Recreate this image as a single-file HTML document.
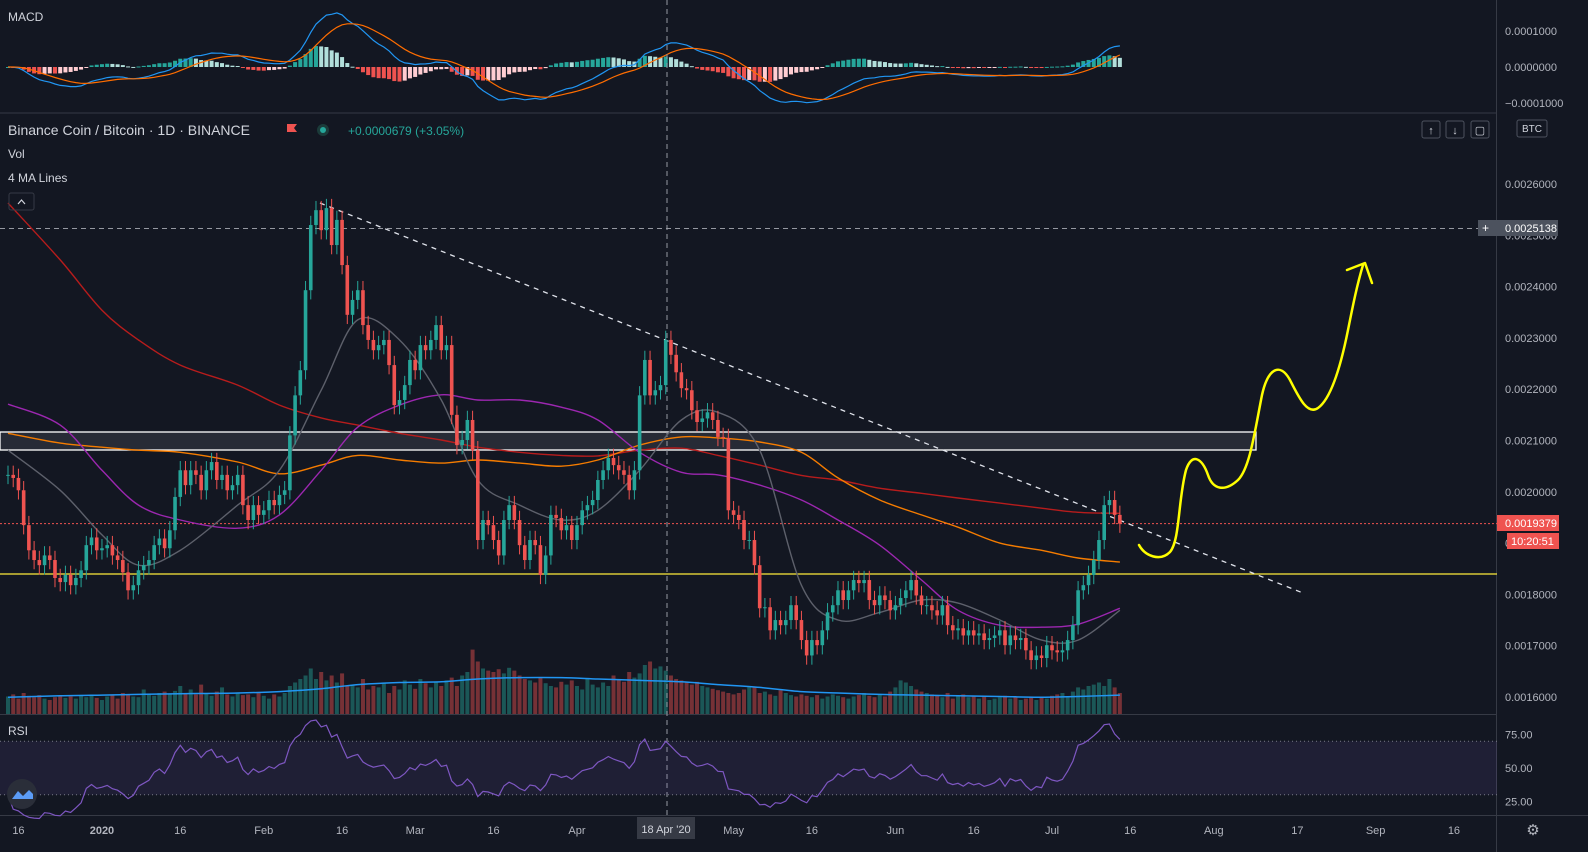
<!DOCTYPE html>
<html><head><meta charset="utf-8">
<style>
html,body{margin:0;padding:0;background:#131722;width:1588px;height:852px;overflow:hidden;font-family:"Liberation Sans",sans-serif;}
svg text{font-family:"Liberation Sans",sans-serif;}
</style></head>
<body>
<svg id="chart" width="1588" height="852" xmlns="http://www.w3.org/2000/svg">
<rect width="1588" height="852" fill="#131722"/>
<g id="grid"></g>
<g id="macd"></g>
<g id="vol"></g>
<g id="overlays"></g>
<g id="candles"></g>
<g id="rsi"></g>
<g id="axis"></g>
</svg>
<script>
const closes=[2033,2027,2003,1935,1886,1867,1857,1876,1867,1832,1824,1838,1818,1832,1847,1896,1911,1886,1890,1896,1876,1867,1843,1808,1818,1847,1857,1867,1896,1909,1890,1925,1990,2042,2013,2042,2033,2003,2042,2058,2023,2033,2003,2013,2033,1974,1945,1974,1955,1964,1984,1974,1994,2003,2110,2188,2237,2393,2520,2549,2510,
2553,2481,2530,2442,2345,2374,2393,2325,2296,2276,2286,2296,2247,2169,2179,2208,2257,2237,2286,2276,2296,2325,2276,2286,2150,2091,2101,2140,2081,
1906,1945,1935,1906,1876,1945,1974,1945,1896,1867,1906,1896,1838,1876,1955,1949,1925,1935,1906,1935,
1964,1974,1984,2023,2042,2066,2052,2042,2033,2003,2042,2188,2257,2188,2198,2208,2296,2267,2233,2202,
2198,2159,2136,2143,2155,2140,2107,2105,1964,1955,1945,1906,1906,1857,1773,1775,1730,1750,1740,1750,
1779,1750,1711,1681,1711,1701,1730,1765,1779,1808,1789,1808,1828,1822,1828,1789,1779,1798,1789,1769,
1779,1793,1808,1828,1798,1779,1779,1769,1759,1779,1740,1730,1734,1720,1730,1720,1724,1711,
1715,1720,1730,1701,1720,1711,1715,1691,1672,1681,1676,1701,1691,1687,1691,1711,1740,1808,1818,1838,1867,1906,1974,1984,1955,1938];
const volumes=[25,28,22,30,26,24,27,22,20,24,26,23,25,22,27,24,26,23,20,25,27,22,30,28,25,24,35,28,26,30,32,
28,33,40,30,35,28,42,30,26,32,38,28,25,30,27,28,24,30,26,22,28,25,30,
40,45,50,55,65,50,60,48,55,45,58,40,42,38,50,35,40,38,45,30,40,35,48,42,36,50,44,38,45,40,48,52,40,55,60,
92,75,65,62,60,64,58,66,62,55,50,48,45,52,44,40,38,46,42,48,40,35,50,42,38,45,40,55,50,46,60,52,
58,70,75,65,68,62,55,50,48,45,42,46,40,38,36,34,32,30,28,30,
35,40,38,30,32,28,26,34,30,27,25,28,26,24,27,22,25,28,26,24,22,25,27,30,26,24,28,25,32,38,48,45,40,35,32,30,28,26,24,30,22,25,28,24,26,22,25,20,22,24,26,22,24,20,22,25,20,24,22,26,28,30,25,32,38,35,40,42,45,40,50,38,30];
const maDays=[0,10,18,25,33,44,52,60,67,75,83,90,98,106,113,121,129,136,144,152,159,167,175,182,190,198,205,213];
const ma200=[2563,2452,2354,2296,2247,2208,2169,2144,2130,2114,2101,2087,2077,2071,2070,2081,2085,2071,2052,2032,2023,2007,1997,1988,1978,1968,1960,1958];
const ma100=[2114,2095,2087,2081,2077,2058,2035,2052,2071,2062,2056,2062,2056,2050,2062,2091,2107,2105,2097,2077,2027,1984,1955,1931,1900,1886,1871,1863];
const ma50=[2171,2130,2042,1974,1945,1929,1955,2042,2126,2169,2189,2179,2179,2165,2140,2077,2038,2033,2013,1984,1945,1896,1828,1769,1740,1736,1742,1773];
const ma20=[2081,2003,1916,1857,1886,1974,2042,2198,2335,2296,2179,2023,1974,1945,1964,2042,2140,2155,2081,1818,1750,1765,1789,1783,1750,1711,1711,1769];
const volMa=[24,26,27,28,29,30,32,36,42,45,46,50,52,52,50,48,46,42,38,32,30,28,27,26,25,24,25,27];
const priceTicks=[2600,2500,2400,2300,2200,2100,2000,1900,1800,1700,1600];
const dateLabels=["16","2020","16","Feb","16","Mar","16","Apr","May","16","Jun","16","Jul","16","Aug","17","Sep","16"];
const dateDays=[2,18,33,49,64,78,93,109,139,154,170,185,200,215,231,247,262,277];
const rsiTicks=[75,50,25];
const macdTicks=[100,0,-100];

const NS="http://www.w3.org/2000/svg";
function X(i){return 8+i*5.22;}
function Y(v){return 184+(2600-v)*0.513;}
function VY(v){return 714-v*0.7;}
function RY(v){return 768-(v-50)*1.34;}
function MY(v){return 67-v*0.36;}
function mk(par,tag,at){const e=document.createElementNS(NS,tag);for(const k in at)e.setAttribute(k,at[k]);document.getElementById(par).appendChild(e);return e;}
function pts(days,vals,fy){return days.map((d,i)=>X(d).toFixed(1)+","+fy(vals[i]).toFixed(1)).join(" ");}
function smooth(days,vals,fy){const p=days.map((d,i)=>[X(d),fy(vals[i])]);let d="M"+p[0][0].toFixed(1)+","+p[0][1].toFixed(1);
for(let i=0;i<p.length-1;i++){const p0=p[i-1]||p[i],p1=p[i],p2=p[i+1],p3=p[i+2]||p2;
const c1=[p1[0]+(p2[0]-p0[0])/6,p1[1]+(p2[1]-p0[1])/6],c2=[p2[0]-(p3[0]-p1[0])/6,p2[1]-(p3[1]-p1[1])/6];
d+=" C"+c1[0].toFixed(1)+","+c1[1].toFixed(1)+" "+c2[0].toFixed(1)+","+c2[1].toFixed(1)+" "+p2[0].toFixed(1)+","+p2[1].toFixed(1);}return d;}

let s;
s=mk("grid","line",{x1:0,y1:113,x2:1497,y2:113,stroke:"#363a45"});

s=mk("grid","line",{x1:0,y1:714.5,x2:1497,y2:714.5,stroke:"#363a45"});

s=mk("grid","line",{x1:0,y1:815.5,x2:1588,y2:815.5,stroke:"#363a45"});

s=mk("grid","line",{x1:1496.5,y1:0,x2:1496.5,y2:852,stroke:"#363a45"});


closes.forEach((c,i)=>{if(i>=volumes.length)return;const o=i?closes[i-1]:c;const up=c>=o;
const r=mk("vol","rect",{x:X(i)-2,y:VY(volumes[i]),width:4,height:714-VY(volumes[i]),fill:up?"rgba(38,166,154,0.45)":"rgba(239,83,80,0.45)"});
});
s=mk("vol","path",{d:smooth(maDays,volMa,VY),fill:"none",stroke:"#2196f3","stroke-width":1.5});


s=mk("overlays","rect",{x:0,y:432,width:1256,height:18,fill:"rgba(120,123,134,0.2)",stroke:"#ffffff","stroke-width":1.3});

s=mk("overlays","line",{x1:0,y1:228.5,x2:1497,y2:228.5,stroke:"#9598a1","stroke-dasharray":"5,4"});

s=mk("overlays","line",{x1:0,y1:Y(1938),x2:1497,y2:Y(1938),stroke:"#ef5350","stroke-dasharray":"2,2"});

s=mk("overlays","line",{x1:0,y1:574,x2:1497,y2:574,stroke:"#ffeb3b","stroke-width":1.3});

s=mk("overlays","line",{x1:667,y1:0,x2:667,y2:815,stroke:"#9598a1","stroke-dasharray":"5,4"});

s=mk("overlays","line",{x1:320,y1:203,x2:1303,y2:593,stroke:"#e0e3eb","stroke-width":1.3,"stroke-dasharray":"5,5"});

[[ma200,"#b71c1c","ma200-line"],[ma100,"#f57c00","ma100-line"],[ma50,"#9c27b0","ma50-line"],[ma20,"#5d606b","ma20-line"]].forEach(m=>{
const l=mk("overlays","path",{d:smooth(maDays,m[0],Y),fill:"none",stroke:m[1],"stroke-width":1.4});
});
s=mk("overlays","path",{d:"M1139,545 C1145,556 1160,562 1170,552 C1180,540 1178,500 1186,470 C1192,452 1202,458 1208,475 C1213,490 1225,492 1238,480 C1250,468 1255,430 1262,395 C1268,368 1280,362 1290,380 C1300,400 1308,415 1318,408 C1332,398 1342,360 1348,330 C1353,305 1357,285 1363,265",fill:"none",stroke:"#ffff00","stroke-width":2.5,"stroke-linecap":"round"});

s=mk("overlays","polyline",{points:"1347,270 1365,263 1372,283",fill:"none",stroke:"#ffff00","stroke-width":2.5,"stroke-linecap":"round","stroke-linejoin":"round"});


closes.forEach((c,i)=>{const o=i?closes[i-1]:c;const up=c>=o;const col=up?"#26a69a":"#ef5350";
const hi=Math.max(o,c)+18,lo=Math.min(o,c)-18;
const w=mk("candles","line",{x1:X(i),y1:Y(hi),x2:X(i),y2:Y(lo),stroke:col});

const b=mk("candles","rect",{x:X(i)-1.8,y:Y(Math.max(o,c)),width:3.6,height:Math.max(1,Math.abs(Y(o)-Y(c))),fill:col});
});

function ema(arr,n){const k=2/(n+1);let e=arr[0];return arr.map(v=>(e=v*k+e*(1-k)));}
const e12=ema(closes,12),e26=ema(closes,26);const macdL=e12.map((v,i)=>v-e26[i]);const sig=ema(macdL,9);
macdL.forEach((m,i)=>{const h=m-sig[i];const ph=i?macdL[i-1]-sig[i-1]:h;
const col=h>=0?(h>=ph?"#26a69a":"#b2dfdb"):(h<ph?"#ef5350":"#ffcdd2");
const r=mk("macd","rect",{x:X(i)-2,y:Math.min(MY(h),67),width:4,height:Math.max(1,Math.abs(MY(h)-67)),fill:col});
});
const idx=closes.map((_,i)=>i);
s=mk("macd","polyline",{points:pts(idx,macdL,MY),fill:"none",stroke:"#2196f3","stroke-width":1.2});

s=mk("macd","polyline",{points:pts(idx,sig,MY),fill:"none",stroke:"#ff6d00","stroke-width":1.2});


s=mk("rsi","rect",{x:0,y:RY(70),width:1497,height:RY(30)-RY(70),fill:"rgba(126,87,194,0.12)"});

[70,30].forEach(v=>{const l=mk("rsi","line",{x1:0,y1:RY(v),x2:1497,y2:RY(v),stroke:"#787b86","stroke-dasharray":"1,3"});
});
let ag=0,al=0;const rsiV=[];
closes.forEach((c,i)=>{if(!i){rsiV.push(30);return;}const d=c-closes[i-1];const g=Math.max(d,0),l=Math.max(-d,0);
if(i===1){ag=g+5;al=l+15;}else{ag=(ag*13+g)/14;al=(al*13+l)/14;}rsiV.push(al===0?100:100-100/(1+ag/al));});
s=mk("rsi","polyline",{points:pts(idx,rsiV,RY),fill:"none",stroke:"#7e57c2","stroke-width":1.2});


function tx(par,x,y,t,at,name,inter){const e=mk(par,"text",Object.assign({x:x,y:y,fill:"#b2b5be","font-size":11},at||{}));e.textContent=t;
return e;}
priceTicks.forEach(v=>tx("axis",1505,Y(v)+4,"0.00"+(v*10).toString().padStart(5,"0"),{},"price-tick-label"));
macdTicks.forEach(v=>tx("axis",1505,MY(v)+4,v<0?"\u22120.0001000":(v>0?"0.0001000":"0.0000000"),{},"macd-tick-label"));
rsiTicks.forEach(v=>tx("axis",1505,RY(v)+4,v.toFixed(2),{},"rsi-tick-label"));
dateDays.forEach((d,i)=>tx("axis",X(d),834,dateLabels[i],{"text-anchor":"middle","font-weight":dateLabels[i]==="2020"?"bold":"normal"},"date-label"));
s=mk("axis","rect",{x:637,y:817,width:58,height:22,fill:"#363a45"});
tx("axis",666,833,"18 Apr '20",{"text-anchor":"middle",fill:"#d1d4dc"},"crosshair-date-label");
s=mk("axis","rect",{x:1478,y:220,width:80,height:16,fill:"#4c525e"});
tx("axis",1482,232,"+",{fill:"#fff","font-size":12},"add-level-icon",true);
tx("axis",1505,232,"0.0025138",{fill:"#fff"},"level-price-label");
s=mk("axis","rect",{x:1497,y:515,width:62,height:16,fill:"#ef5350"});
tx("axis",1505,527,"0.0019379",{fill:"#fff"},"last-price-label");
s=mk("axis","rect",{x:1507,y:533,width:52,height:16,fill:"#ef5350"});
tx("axis",1511,545,"10:20:51",{fill:"#fff"},"countdown-label");
s=mk("axis","rect",{x:1517,y:120,width:30,height:17,rx:2,fill:"#131722",stroke:"#4c525e"});
tx("axis",1532,132,"BTC",{"text-anchor":"middle",fill:"#d1d4dc","font-size":10},"currency-label");
tx("axis",8,21,"MACD",{fill:"#d1d4dc","font-size":12},"macd-title");
tx("axis",8,135,"Binance Coin / Bitcoin · 1D · BINANCE",{fill:"#d1d4dc","font-size":14},"symbol-title");
s=mk("axis","path",{d:"M287,124 h10 l-3,4 l3,4 h-10 z",fill:"#ef5350"});
s=mk("axis","circle",{cx:323,cy:130,r:6,fill:"#1b3b3a"});
s=mk("axis","circle",{cx:323,cy:130,r:3,fill:"#26a69a"});
tx("axis",348,135,"+0.0000679 (+3.05%)",{fill:"#26a69a","font-size":12},"price-change");
tx("axis",8,158,"Vol",{fill:"#d1d4dc","font-size":12},"volume-legend");
tx("axis",8,182,"4 MA Lines",{fill:"#d1d4dc","font-size":12},"ma-legend");
s=mk("axis","rect",{x:9,y:193,width:25,height:17,rx:2,fill:"none",stroke:"#363a45"});
s=mk("axis","polyline",{points:"18,204 21.5,200 25,204",fill:"none",stroke:"#d1d4dc","stroke-width":1.2});
tx("axis",8,735,"RSI",{fill:"#d1d4dc","font-size":12},"rsi-title");
[[1422,"\u2191","move-up-button"],[1446,"\u2193","move-down-button"],[1471,"\u25A2","maximize-button"]].forEach(b=>{
const r=mk("axis","rect",{x:b[0],y:121,width:18,height:17,rx:2,fill:"none",stroke:"#4c525e"});
tx("axis",b[0]+9,134,b[1],{"text-anchor":"middle",fill:"#d1d4dc","font-size":11},b[2]+"-icon");});
s=mk("axis","circle",{cx:22,cy:794,r:15,fill:"#2a2e39"});
s=mk("axis","path",{d:"M12,799 l6,-8 l5,5 l6,-6 l4,4 v5 z",fill:"#5b9cf6"});
tx("axis",1533,835,"\u2699",{"text-anchor":"middle",fill:"#b2b5be","font-size":15},"settings-icon",true);
</script>
</body></html>
